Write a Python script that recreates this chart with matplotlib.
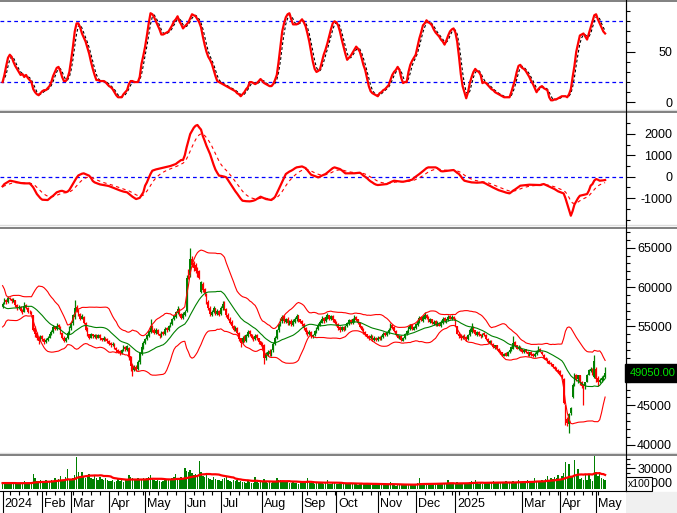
import numpy as np
import pandas as pd
import matplotlib
matplotlib.use("Agg")
import matplotlib.pyplot as plt
from matplotlib.lines import Line2D
from matplotlib.patches import Rectangle
from matplotlib.transforms import blended_transform_factory

plt.rcParams["font.family"] = ["Liberation Sans", "DejaVu Sans"]
plt.rcParams["axes.unicode_minus"] = False

# trading days shown (Jan 2 2024 .. May 9 2025), market holidays removed
holidays = ["2024-02-08", "2024-02-09", "2024-02-12", "2024-02-13", "2024-02-14",
            "2024-04-18", "2024-04-30", "2024-05-01", "2024-09-02", "2024-09-03",
            "2025-01-01", "2025-01-27", "2025-01-28", "2025-01-29", "2025-01-30",
            "2025-01-31", "2025-04-07", "2025-04-30", "2025-05-01"]
skip_months = [(2025, 2)]

# daily prices in thousands (one row per month)
opens = [
    57.6, 57.9, 58.4, 58.1, 58.6, 58.5, 58.2, 58.3, 57.7, 57.3, 57.5, 57.1, 56.9, 57.7, 57.4, 56.9, 56.9, 56.4, 54.8, 54.2, 53.6, 53.3,
    53.8, 53.4, 53.0, 53.3, 53.6, 54.0, 54.3, 55.0, 54.7, 55.2, 54.9, 54.2, 53.6, 53.1, 53.5, 54.1,
    54.8, 55.4, 56.2, 57.5, 57.0, 56.6, 56.0, 56.2, 55.5, 54.8, 54.0, 53.6, 54.0, 53.7, 53.9, 53.6, 53.9, 53.5, 53.3, 53.6, 53.4,
    53.1, 52.9, 52.6, 52.8, 52.3, 52.0, 51.9, 51.6, 52.0, 52.4, 52.0, 52.3, 51.2, 50.0, 49.5, 49.9, 49.6, 50.5, 51.5, 52.3,
    52.9, 53.4, 53.8, 54.3, 55.0, 54.6, 54.2, 54.6, 54.1, 53.8, 54.3, 54.0, 54.8, 54.5, 55.0, 55.3, 55.9, 56.2, 56.7, 57.1, 56.6, 56.1,
    56.5, 57.0, 62.1, 61.5, 63.6, 63.0, 62.8, 62.4, 62.0, 59.4, 60.4, 59.7, 59.0, 58.1, 57.4, 56.5, 56.8, 57.3, 56.6, 57.0,
    56.6, 57.3, 58.0, 57.2, 56.5, 56.0, 55.6, 55.1, 54.5, 54.8, 54.2, 53.5, 53.0, 53.7, 53.2, 53.8, 54.4, 54.0, 53.7, 53.4, 53.9, 53.5, 53.1,
    52.8, 52.6, 51.0, 51.4, 51.9, 51.5, 52.0, 52.8, 53.6, 54.5, 55.2, 55.7, 56.3, 55.6, 56.0, 55.4, 55.7, 55.2, 55.6, 55.9, 56.4, 55.9,
    55.7, 55.3, 54.8, 54.4, 54.0, 54.3, 53.7, 53.9, 54.3, 54.7, 55.1, 55.5, 56.1, 55.7, 56.1, 56.4, 55.9, 56.3, 55.9,
    55.6, 55.3, 54.9, 54.5, 54.9, 54.6, 55.0, 55.3, 55.8, 55.4, 55.7, 56.2, 55.9, 55.5, 55.0, 54.7, 54.3, 54.0, 53.8, 53.5, 53.8, 53.3, 53.6,
    53.3, 53.7, 53.4, 53.7, 54.2, 53.9, 54.2, 54.6, 55.2, 54.9, 54.4, 54.0, 53.5, 53.8, 53.2, 53.5, 54.0, 54.3, 54.7, 55.2, 54.6,
    54.8, 55.2, 55.6, 56.2, 55.7, 56.0, 56.5, 56.2, 55.6, 55.9, 55.3, 55.7, 55.1, 55.5, 55.0, 55.4, 56.1, 55.6, 55.8, 56.3, 55.9, 56.2,
    56.0, 55.0, 54.1, 53.9, 53.5, 53.9, 53.7, 53.4, 53.9, 54.3, 54.9, 54.5, 53.9, 54.3, 54.0, 53.8, 54.2,
    53.9, 53.4, 52.9, 53.2, 52.8, 52.3, 52.6, 52.2, 51.9, 51.7, 51.3, 51.6, 51.3, 51.7, 52.0, 52.2, 53.0, 52.6, 52.1, 52.4,
    52.1, 51.7, 52.1, 51.8, 51.4, 51.8, 51.5, 51.2, 51.5, 51.8, 52.2, 51.8, 51.4, 51.0, 50.9, 50.6, 50.4, 50.2, 49.9, 49.7, 49.5,
    49.4, 48.9, 48.4, 45.0, 43.3, 42.6, 44.0, 46.0, 47.7, 48.9, 48.3, 48.8, 48.0, 47.6, 47.4, 48.0, 48.9, 49.4, 49.5, 48.6,
    49.6, 48.5, 48.0, 48.2, 48.4, 48.6,
]
highs = [
    58.1, 58.6, 58.5, 58.9, 58.8, 58.6, 58.6, 58.4, 57.8, 57.7, 57.6, 57.2, 58.1, 57.8, 57.5, 57.1, 57.0, 56.5, 55.0, 54.3, 53.8, 53.9,
    53.9, 53.6, 53.5, 53.8, 54.2, 54.6, 55.2, 55.1, 55.4, 55.3, 55.0, 54.3, 53.8, 53.7, 54.4, 55.0,
    55.6, 56.6, 58.3, 57.7, 57.2, 56.7, 56.6, 56.3, 55.6, 54.9, 54.1, 54.2, 54.1, 54.1, 54.0, 54.1, 54.0, 53.6, 53.8, 53.7, 53.5,
    53.3, 53.0, 53.0, 52.9, 52.4, 52.1, 52.0, 52.2, 52.7, 52.5, 52.7, 52.4, 51.3, 50.2, 50.1, 50.1, 50.7, 51.8, 52.6, 53.1,
    53.6, 54.1, 54.6, 56.0, 55.2, 54.8, 54.8, 54.7, 54.2, 54.4, 54.4, 54.9, 54.9, 55.2, 55.6, 56.1, 56.5, 57.0, 57.6, 57.3, 56.7, 56.8,
    57.1, 61.5, 62.3, 65.0, 64.0, 63.3, 63.1, 62.6, 62.2, 60.8, 60.6, 59.9, 59.2, 58.3, 57.6, 57.1, 57.6, 57.4, 57.2, 57.1,
    57.6, 58.2, 58.2, 57.4, 56.7, 56.2, 55.8, 55.2, 55.0, 54.9, 54.3, 53.6, 53.8, 53.9, 54.1, 54.5, 54.6, 54.1, 53.8, 54.0, 54.0, 53.6, 53.2,
    53.0, 52.8, 51.7, 52.0, 52.1, 52.2, 53.0, 53.8, 54.7, 55.5, 56.1, 56.5, 56.5, 56.1, 56.2, 55.8, 55.9, 55.9, 56.2, 56.6, 56.5, 56.0,
    55.8, 55.5, 54.9, 54.5, 54.5, 54.4, 54.1, 54.6, 54.9, 55.4, 55.8, 56.3, 56.2, 56.4, 56.7, 56.5, 56.5, 56.4, 56.0,
    55.7, 55.4, 55.0, 55.1, 55.0, 55.2, 55.6, 56.0, 55.9, 56.1, 56.5, 56.3, 56.0, 55.6, 55.1, 54.8, 54.4, 54.1, 53.9, 54.0, 53.9, 53.8, 53.7,
    53.8, 53.8, 53.9, 54.3, 54.3, 54.4, 54.8, 55.4, 55.3, 55.0, 54.5, 54.1, 53.9, 53.9, 53.7, 54.2, 54.6, 55.0, 55.3, 55.3, 55.1,
    55.4, 55.9, 56.3, 56.3, 56.4, 56.8, 56.6, 56.3, 56.1, 56.0, 55.8, 55.8, 55.7, 55.6, 55.8, 56.2, 56.2, 56.0, 56.4, 56.4, 56.4, 56.3,
    56.1, 55.1, 54.3, 54.0, 53.9, 54.0, 53.8, 54.0, 54.8, 55.4, 55.0, 54.6, 54.4, 54.4, 54.1, 54.2, 54.3,
    54.0, 53.5, 53.3, 53.3, 52.9, 52.7, 52.7, 52.3, 52.0, 51.8, 51.6, 51.7, 51.9, 52.2, 52.5, 53.8, 53.1, 52.7, 52.6, 52.5,
    52.2, 52.1, 52.2, 51.9, 51.8, 51.9, 51.6, 51.7, 52.0, 52.5, 52.3, 51.9, 51.5, 51.1, 51.0, 50.7, 50.5, 50.3, 50.0, 49.8, 49.6,
    49.5, 49.0, 48.5, 45.1, 43.5, 44.0, 44.8, 47.8, 49.1, 49.0, 48.9, 48.9, 48.1, 47.7, 48.0, 49.0, 49.6, 49.8, 49.7, 51.4,
    49.8, 48.7, 48.5, 48.7, 48.8, 49.9,
]
lows = [
    57.4, 57.8, 57.9, 58.0, 58.3, 58.0, 58.1, 57.5, 57.1, 57.2, 56.9, 56.6, 56.8, 57.2, 56.7, 56.6, 56.4, 54.4, 53.7, 53.3, 52.8, 53.2,
    53.2, 52.8, 52.9, 53.2, 53.5, 53.9, 54.2, 54.5, 54.6, 54.7, 54.1, 53.4, 53.0, 53.0, 53.4, 54.0,
    54.6, 55.2, 56.0, 56.8, 56.3, 55.8, 55.9, 55.3, 54.4, 53.8, 53.4, 53.5, 53.6, 53.6, 53.4, 53.5, 53.3, 53.1, 53.2, 53.2, 52.9,
    52.6, 52.4, 52.5, 52.1, 51.8, 51.6, 51.4, 51.5, 51.9, 51.9, 51.9, 50.8, 49.4, 48.7, 49.3, 49.3, 49.5, 50.3, 51.4, 52.2,
    52.8, 53.3, 53.7, 54.2, 54.3, 54.0, 54.1, 53.9, 53.6, 53.7, 53.9, 53.9, 54.3, 54.4, 54.9, 55.2, 55.8, 56.1, 56.6, 56.3, 55.9, 56.0,
    56.3, 56.9, 61.0, 61.3, 62.5, 62.1, 61.8, 61.3, 61.0, 59.2, 59.4, 58.9, 57.8, 57.1, 56.3, 56.3, 56.7, 56.4, 56.5, 56.3,
    56.4, 57.1, 57.1, 56.2, 55.8, 55.3, 54.8, 54.4, 54.4, 54.0, 53.2, 52.4, 52.9, 53.0, 53.0, 53.7, 53.8, 53.4, 53.2, 53.3, 53.3, 52.8, 52.5,
    52.2, 50.3, 50.8, 51.2, 51.3, 51.3, 51.8, 52.6, 53.4, 54.3, 55.0, 55.5, 55.5, 55.4, 55.2, 55.2, 55.1, 55.1, 55.5, 55.7, 55.6, 55.4,
    55.1, 54.6, 54.1, 53.8, 53.9, 53.6, 53.5, 53.8, 54.2, 54.6, 55.0, 55.4, 55.5, 55.6, 56.0, 55.8, 55.8, 55.6, 55.3,
    55.0, 54.6, 54.3, 54.4, 54.4, 54.5, 54.9, 55.2, 55.3, 55.3, 55.6, 55.7, 55.3, 54.8, 54.4, 54.0, 53.8, 53.5, 53.3, 53.4, 53.2, 53.2, 53.1,
    53.2, 53.3, 53.3, 53.6, 53.8, 53.8, 54.1, 54.5, 54.7, 54.3, 53.8, 53.5, 53.4, 53.1, 53.1, 53.4, 53.9, 54.2, 54.6, 54.6, 54.5,
    54.7, 55.1, 55.5, 55.7, 55.6, 55.9, 56.0, 55.6, 55.5, 55.3, 55.2, 55.1, 55.0, 55.0, 54.9, 55.3, 55.6, 55.5, 55.7, 55.9, 55.8, 55.8,
    55.1, 54.0, 53.6, 53.3, 53.4, 53.5, 53.2, 53.3, 53.8, 54.2, 54.3, 53.9, 53.8, 53.8, 53.6, 53.7, 53.8,
    53.3, 52.9, 52.8, 52.6, 52.3, 52.2, 52.0, 51.7, 51.5, 51.3, 51.2, 51.2, 51.2, 51.6, 51.9, 52.1, 52.4, 52.1, 52.0, 51.9,
    51.6, 51.6, 51.6, 51.3, 51.3, 51.3, 51.1, 51.1, 51.4, 51.7, 51.7, 51.4, 50.9, 50.7, 50.4, 50.2, 50.0, 49.7, 49.5, 49.3, 49.1,
    48.8, 48.4, 45.2, 42.5, 42.4, 41.5, 43.8, 45.9, 47.4, 48.1, 47.8, 47.6, 47.2, 45.0, 47.1, 47.9, 48.8, 49.2, 48.9, 48.5,
    47.9, 47.5, 47.8, 48.0, 48.2, 48.5,
]
closes = [
    57.9, 58.3, 58.1, 58.6, 58.5, 58.2, 58.4, 57.7, 57.3, 57.5, 57.0, 56.9, 57.6, 57.4, 56.9, 56.8, 56.6, 54.6, 54.0, 53.5, 53.2, 53.8,
    53.4, 53.0, 53.3, 53.6, 54.0, 54.3, 54.9, 54.7, 55.1, 54.9, 54.2, 53.6, 53.2, 53.5, 54.2, 54.8,
    55.4, 56.4, 57.4, 57.0, 56.5, 56.0, 56.3, 55.5, 54.6, 54.0, 53.6, 54.0, 53.8, 53.9, 53.6, 53.9, 53.5, 53.3, 53.6, 53.4, 53.1,
    52.8, 52.6, 52.8, 52.3, 52.0, 51.8, 51.6, 52.0, 52.4, 52.1, 52.5, 51.2, 50.0, 49.4, 49.9, 49.6, 50.5, 51.6, 52.4, 52.9,
    53.4, 53.9, 54.4, 55.0, 54.5, 54.2, 54.6, 54.0, 53.8, 54.2, 54.0, 54.7, 54.5, 55.0, 55.4, 55.9, 56.3, 56.8, 57.2, 56.5, 56.1, 56.6,
    56.9, 61.2, 61.6, 63.6, 62.8, 62.4, 62.0, 61.6, 61.2, 60.6, 59.6, 59.2, 58.0, 57.3, 56.6, 56.9, 57.3, 56.6, 57.0, 56.5,
    57.4, 57.8, 57.3, 56.4, 56.0, 55.5, 55.0, 54.6, 54.8, 54.2, 53.4, 52.9, 53.6, 53.2, 53.9, 54.3, 54.0, 53.6, 53.4, 53.8, 53.5, 53.0, 52.7,
    52.4, 51.0, 51.5, 51.8, 51.5, 52.0, 52.8, 53.6, 54.5, 55.3, 55.8, 56.2, 55.7, 55.9, 55.4, 55.6, 55.3, 55.7, 56.0, 56.3, 55.8, 55.6,
    55.3, 54.8, 54.3, 54.0, 54.3, 53.8, 53.9, 54.4, 54.7, 55.2, 55.6, 56.0, 55.7, 56.2, 56.4, 56.0, 56.3, 55.8, 55.5,
    55.2, 54.8, 54.5, 54.9, 54.6, 55.0, 55.5, 55.8, 55.5, 55.9, 56.2, 55.8, 55.4, 54.9, 54.6, 54.2, 54.0, 53.7, 53.5, 53.8, 53.4, 53.6, 53.3,
    53.6, 53.4, 53.8, 54.1, 53.9, 54.3, 54.6, 55.1, 54.8, 54.4, 53.9, 53.6, 53.8, 53.3, 53.5, 54.1, 54.4, 54.8, 55.1, 54.7, 54.9,
    55.3, 55.7, 56.1, 55.8, 56.2, 56.5, 56.1, 55.7, 55.9, 55.4, 55.6, 55.2, 55.5, 55.1, 55.6, 56.0, 55.7, 55.9, 56.2, 56.0, 56.2, 55.9,
    55.3, 54.1, 53.8, 53.5, 53.8, 53.6, 53.4, 53.9, 54.6, 54.9, 54.4, 54.0, 54.3, 53.9, 53.8, 54.1, 53.9,
    53.4, 53.0, 53.2, 52.7, 52.4, 52.6, 52.1, 51.8, 51.6, 51.4, 51.5, 51.3, 51.8, 52.0, 52.4, 52.9, 52.5, 52.2, 52.4, 52.0,
    51.8, 52.0, 51.7, 51.5, 51.7, 51.4, 51.2, 51.5, 51.9, 52.2, 51.8, 51.5, 51.0, 50.8, 50.6, 50.3, 50.2, 49.8, 49.6, 49.4, 49.2,
    48.9, 48.6, 45.3, 42.7, 42.8, 43.9, 44.6, 47.6, 48.9, 48.4, 48.8, 48.0, 47.5, 47.3, 47.9, 48.9, 49.5, 49.6, 49.2, 50.6,
    48.4, 47.9, 48.2, 48.5, 48.6, 49.05,
]
# closes of the 19 sessions before the first bar (only feed the 20-day bands)
warmup_closes = [60.5, 61.0, 59.5, 58.0, 57.5, 58.0, 57.6, 57.2, 56.5, 56.2,
                 56.0, 56.4, 56.9, 57.3, 56.8, 56.5, 57.0, 57.2, 57.3]

# volume in units of 100 shares
volume = [
    8500, 9200, 7400, 10500, 8800, 7900, 9600, 8200, 7000, 9300, 8100, 7600, 11200, 8400, 7800, 9000, 10800, 22100, 15600, 12400, 11800, 13500,
    10500, 9600, 12800, 11000, 9800, 13200, 11500, 16000, 12300, 14800, 18300, 13600, 12100, 17200, 28800, 15400,
    14500, 16800, 21000, 46000, 25400, 18600, 24800, 17200, 15900, 19500, 22100, 16400, 14200, 18800, 15600, 13900, 17000, 14300, 12600, 15800, 13200,
    12400, 11600, 13800, 10900, 12200, 14600, 11300, 12800, 10400, 13500, 15200, 20700, 17800, 16300, 14100, 13200, 15800, 12900, 14600, 16200,
    13800, 15600, 17400, 20700, 14200, 12800, 11900, 13600, 12200, 10800, 11600, 13900, 12700, 14800, 13300, 15600, 17100, 22000, 16400, 14900, 18200, 16800,
    30300, 26800, 24500, 28000, 22600, 19800, 21400, 18700, 41100, 24800, 19500, 17600, 20700, 16200, 15400, 13800, 17900, 14600, 12800, 13500,
    12400, 14800, 16200, 18300, 12600, 11800, 10900, 13200, 11500, 12800, 10600, 11900, 9800, 10400, 9200, 11600, 10100, 8900, 9700, 17400, 10800, 9600, 11200,
    12200, 14600, 10800, 9500, 10200, 8800, 11400, 12100, 16000, 13200, 12800, 11600, 10400, 9800, 10900, 8600, 9300, 10100, 8700, 9400, 8200, 9000,
    8800, 9600, 10300, 16000, 11200, 9400, 8600, 7900, 9200, 10100, 8400, 9000, 7600, 8300, 12800, 8100, 7700, 9300, 8600,
    8200, 7400, 8900, 7700, 6900, 8100, 7300, 9400, 7800, 7100, 8600, 7500, 6800, 7900, 7200, 8400, 9100, 7600, 6900, 7800, 7300, 8100, 6700,
    6400, 5800, 7100, 6200, 5600, 6800, 7400, 11100, 6900, 6100, 5400, 6600, 5900, 6300, 5700, 7200, 6500, 5800, 6700, 7600, 6200,
    7400, 8600, 16000, 9200, 8100, 7800, 8900, 7300, 8400, 7600, 6900, 8200, 7500, 8800, 7100, 7900, 8600, 7400, 12600, 8300, 7700, 8900,
    9400, 10800, 8600, 9200, 7800, 8900, 8300, 9600, 10400, 11200, 9100, 13600, 8700, 8200, 9500, 7600, 8800,
    9300, 10200, 8600, 9800, 11400, 8900, 10600, 9700, 8400, 10100, 9200, 11800, 10300, 8700, 9600, 12400, 10800, 9900, 13600, 10500,
    9800, 11200, 10400, 12600, 9700, 11800, 10900, 16000, 12300, 11500, 10800, 13400, 12100, 14200, 18300, 13800, 15600, 14900, 17200, 16300, 19800,
    15400, 18600, 22800, 39700, 17800, 36000, 17500, 19200, 42100, 19300, 28800, 14600, 16700, 13900, 22000, 12600, 19800, 14500, 11900, 46900,
    25300, 18400, 24000, 16200, 14800, 12600,
]
warmup_volume = [9000, 8200, 9800, 8600, 9400, 7800, 8800, 10200, 8400, 9100,
                 8700, 9500, 8000, 9300, 8900, 8600, 9700, 8300, 9000]

stoch_k = [
    20, 27, 36, 44, 47, 45, 40, 36, 33, 30, 27, 28, 25, 27, 24, 22, 20, 13, 10, 8,
    7, 9, 11, 12, 12, 14, 16, 20, 26, 30, 34, 35, 31, 25, 21, 21, 24, 30, 42, 55,
    70, 78, 78, 74, 68, 64, 60, 54, 48, 40, 33, 27, 22, 22, 21, 21, 21, 20, 18, 16,
    15, 13, 10, 7, 5, 5, 5, 8, 10, 12, 18, 21, 21, 20, 20, 20, 25, 38, 46, 55,
    66, 78, 88, 87, 84, 80, 76, 72, 67, 67, 68, 69, 70, 73, 76, 80, 82, 85, 80, 77,
    73, 75, 77, 79, 83, 87, 86, 85, 82, 79, 74, 65, 57, 50, 45, 42, 38, 32, 26, 21,
    20, 19, 18, 17, 16, 15, 14, 13, 12, 11, 9, 8, 6, 8, 10, 13, 15, 20, 20, 19,
    18, 19, 21, 23, 21, 19, 18, 17, 16, 16, 18, 22, 27, 40, 55, 70, 78, 84, 87, 88,
    82, 77, 77, 77, 78, 80, 82, 79, 75, 68, 60, 50, 40, 33, 30, 31, 33, 40, 47, 52,
    58, 65, 72, 78, 80, 79, 76, 70, 62, 55, 48, 42, 44, 46, 49, 52, 55, 53, 50, 44,
    37, 32, 24, 16, 11, 9, 8, 7, 6, 9, 10, 12, 13, 15, 17, 22, 27, 30, 32, 35,
    32, 24, 19, 20, 20, 30, 37, 41, 44, 47, 55, 63, 69, 76, 78, 81, 79, 78, 76, 72,
    69, 67, 65, 62, 60, 57, 61, 66, 70, 72, 73, 69, 60, 45, 28, 16, 10, 4, 10, 19,
    25, 30, 33, 31, 30, 27, 19, 20, 19, 17, 15, 13, 12, 10, 9, 8, 7, 6, 5, 5,
    5, 5, 10, 16, 22, 30, 36, 37, 34, 33, 31, 28, 25, 21, 18, 14, 10, 13, 15, 16,
    14, 13, 12, 5, 2, 2, 3, 3, 4, 5, 6, 6, 6, 5, 8, 13, 25, 36, 50, 58,
    66, 67, 68, 65, 62, 68, 74, 80, 86, 87, 82, 78, 74, 70, 68,
]
macd = [
    -450, -343, -290, -240, -190, -200, -220, -245, -265, -280, -295, -305, -312, -312, -312, -312, -400, -500, -650, -810,
    -910, -1010, -1075, -1080, -1085, -1090, -1020, -950, -890, -810, -730, -700, -670, -660, -690, -720, -700, -620, -480, -343,
    -200, -50, 60, 100, 140, 156, 120, 80, 47, -60, -200, -265, -300, -330, -360, -374, -385, -400, -420, -440,
    -470, -505, -540, -575, -605, -640, -670, -695, -715, -730, -800, -870, -935, -990, -1045, -1020, -990, -860, -730, -420,
    -265, -60, 130, 280, 310, 340, 360, 380, 400, 420, 440, 460, 480, 500, 530, 560, 592, 660, 720, 780,
    780, 1000, 1371, 1680, 1994, 2140, 2290, 2380, 2415, 2300, 2200, 1900, 1683, 1450, 1250, 1060, 800, 550, 330, 180,
    47, 40, 20, 0, -31, -160, -290, -420, -550, -680, -790, -910, -1030, -1122, -1135, -1145, -1150, -1153, -1140, -1120,
    -1090, -1040, -990, -935, -970, -1010, -1045, -1060, -1075, -1090, -1020, -950, -780, -600, -420, -230, -50, 125, 180, 240,
    280, 330, 390, 436, 450, 465, 480, 440, 400, 300, 200, 93, 60, 30, 0, -31, 10, 47, 90, 125,
    190, 260, 330, 400, 436, 410, 380, 358, 300, 230, 156, 156, 156, 156, 156, 160, 170, 180, 187, 130,
    50, 0, -70, -150, -218, -270, -330, -370, -390, -380, -370, -360, -350, -343, -300, -260, -220, -187, -200, -210,
    -220, -230, -234, -220, -200, -180, -160, -140, -60, 0, 60, 125, 190, 260, 330, 400, 436, 436, 436, 436,
    436, 400, 330, 260, 250, 260, 270, 280, 290, 300, 312, 250, 180, 125, 20, -100, -187, -210, -230, -250,
    -265, -270, -275, -280, -275, -270, -265, -290, -330, -380, -420, -467, -510, -550, -590, -630, -655, -680, -710, -740,
    -760, -780, -720, -650, -600, -540, -480, -420, -410, -400, -390, -380, -374, -376, -378, -380, -382, -385, -390, -360,
    -343, -380, -420, -460, -500, -540, -580, -630, -686, -720, -750, -780, -1000, -1278, -1550, -1823, -1600, -1300, -1150, -1000,
    -890, -870, -850, -830, -810, -650, -420, -343, -180, -110, -140, -187, -180, -170, -156,
]

# ---- derived series ----
dates = pd.bdate_range("2024-01-02", "2025-05-09")
dates = dates[~dates.isin(pd.to_datetime(holidays))]
o = np.array(opens) * 1000
h = np.array(highs) * 1000
l = np.array(lows) * 1000
c = np.array(closes) * 1000
n = len(c)
x = np.arange(n)

full_close = pd.Series(warmup_closes + closes) * 1000
mid = full_close.rolling(20).mean().to_numpy()[len(warmup_closes):]
sd = full_close.rolling(20).std(ddof=0).to_numpy()[len(warmup_closes):]
upper, lower = mid + 2 * sd, mid - 2 * sd

vol_ma = pd.Series(warmup_volume + volume).rolling(20).mean().to_numpy()[len(warmup_volume):]
k = pd.Series(stoch_k, dtype=float)
d = k.rolling(3, min_periods=1).mean()
m = pd.Series(macd, dtype=float)
signal = m.ewm(span=9, adjust=False).mean()

# ---- figure ----
W, H = 677, 513
RIGHT = 625.5
XMIN, XMAX = -1.44, 345.3
RED, GREEN, BLUE = "#ff0000", "#008000", "#0000ff"
fig = plt.figure(figsize=(W / 100, H / 100), dpi=100)


def add_panel(top, bottom):
    return fig.add_axes([0, 1 - bottom / H, RIGHT / W, (bottom - top) / H])


def setup(ax, ylim, major, minor, hidden=()):
    ax.set_xlim(XMIN, XMAX)
    ax.set_ylim(*ylim)
    for s in ("top", "left", "bottom"):
        ax.spines[s].set_visible(False)
    ax.spines["right"].set_linewidth(0.8)
    ax.yaxis.tick_right()
    ax.set_xticks([])
    ax.set_yticks(major, ["" if v in hidden else str(v) for v in major])
    ax.set_yticks(minor, minor=True)
    ax.tick_params(axis="y", which="major", length=6.5, width=0.8, pad=27, labelsize=9)
    ax.tick_params(axis="y", which="minor", length=3, width=0.8)
    for t in ax.get_yticklabels():
        t.set_horizontalalignment("right")


# stochastic
ax1 = add_panel(2, 109)
setup(ax1, (-6.6, 99.1), [0, 50], [10, 20, 30, 40, 60, 70, 80, 90])
for lvl in (80, 20):
    ax1.axhline(lvl, color=BLUE, lw=0.9, ls=(0, (3, 2.5)))
ax1.plot(x, d, color="black", lw=0.8, ls=(0, (2.5, 2)))
ax1.plot(x, k, color=RED, lw=1.6)

# MACD
ax2 = add_panel(113.5, 224)
setup(ax2, (-2210, 2953), [-1000, 0, 1000, 2000], [-2000, -1500, -500, 500, 1500, 2500])
ax2.axhline(0, color=BLUE, lw=0.9, ls=(0, (3, 2.5)))
ax2.plot(x, signal, color=RED, lw=0.8, ls=(0, (3, 3)))
ax2.plot(x, m, color=RED, lw=1.6)

# price with Bollinger bands; the 50000 label sits under the last-price box
ax3 = add_panel(229, 451.5)
major = list(range(40000, 65001, 5000))
setup(ax3, (39137, 67372), major, [v for v in range(40000, 67001, 1000) if v not in major],
      hidden=(50000,))
colors = np.where(c >= o, GREEN, RED)
ax3.vlines(x, l, h, colors=colors, lw=0.9)
ax3.bar(x, np.maximum(np.abs(c - o), 80), bottom=np.minimum(o, c), width=0.9,
        color=colors, linewidth=0, antialiased=False)
ax3.plot(x, upper, color=RED, lw=0.8)
ax3.plot(x, lower, color=RED, lw=0.8)
ax3.plot(x, mid, color=GREEN, lw=0.8)
ax3.text(1.0062, c[-1], f"{c[-1]:.2f}", transform=blended_transform_factory(ax3.transAxes, ax3.transData),
         ha="left", va="center", fontsize=8, color="#00e600", clip_on=False, zorder=10,
         bbox=dict(boxstyle="square,pad=0.35", fc="black", ec="black"))

# volume
ax4 = add_panel(455.7, 490.7)
setup(ax4, (-2000, 48000), [10000, 30000], [3333, 16667, 23333, 36667, 43333])
ax4.bar(x, volume, width=0.8, color=GREEN, linewidth=0, antialiased=False)
ax4.plot(x, vol_ma, color=RED, lw=1.6)
fig.text(628 / W, 1 - 484 / H, "x100", fontsize=7.5, ha="left", va="center",
         bbox=dict(boxstyle="square,pad=0.15", fc="white", ec="black", lw=0.8))

# date row
ax5 = add_panel(490.7, 513)
ax5.set_xlim(XMIN, XMAX)
ax5.set_ylim(0, 1)
ax5.set_xticks([])
ax5.set_yticks([])
for s in ("left", "right", "bottom"):
    ax5.spines[s].set_visible(False)
ax5.spines["top"].set_linewidth(0.8)
month_idx, week_idx = [], []
for i in range(n):
    if i == 0 or dates[i].month != dates[i - 1].month:
        if (dates[i].year, dates[i].month) not in skip_months:
            month_idx.append(i)
    elif dates[i].weekday() < dates[i - 1].weekday():
        week_idx.append(i)
ax5.vlines(month_idx, 0, 1, color="black", lw=0.8)
ax5.vlines(week_idx, 0.82, 1, color="black", lw=0.8)
for i in month_idx:
    lab = str(dates[i].year) if dates[i].month == 1 else dates[i].strftime("%b")
    ax5.text(i + 1.0, 0.42, lab, fontsize=9, ha="left", va="center")

fig.add_artist(Rectangle((RIGHT / W, 0), 1 - RIGHT / W, (513 - 491.5) / H,
                         transform=fig.transFigure, color="#f0f0f0", zorder=0))

# pane separators and right scale line
for y, col, w in [(1, "#808080", 1.4), (110, "#dcdcdc", 1.0), (112, "#808080", 1.4),
                  (225.2, "#dcdcdc", 1.0), (227.8, "#808080", 1.4),
                  (452.5, "#dcdcdc", 1.0), (454.8, "#808080", 1.4)]:
    fig.add_artist(Line2D([0, 1], [1 - y / H] * 2, transform=fig.transFigure, color=col, lw=w))
fig.add_artist(Line2D([RIGHT / W] * 2, [1 - 490.7 / H, 1], transform=fig.transFigure,
                      color="black", lw=0.8))

fig.savefig("out.png", dpi=100)
